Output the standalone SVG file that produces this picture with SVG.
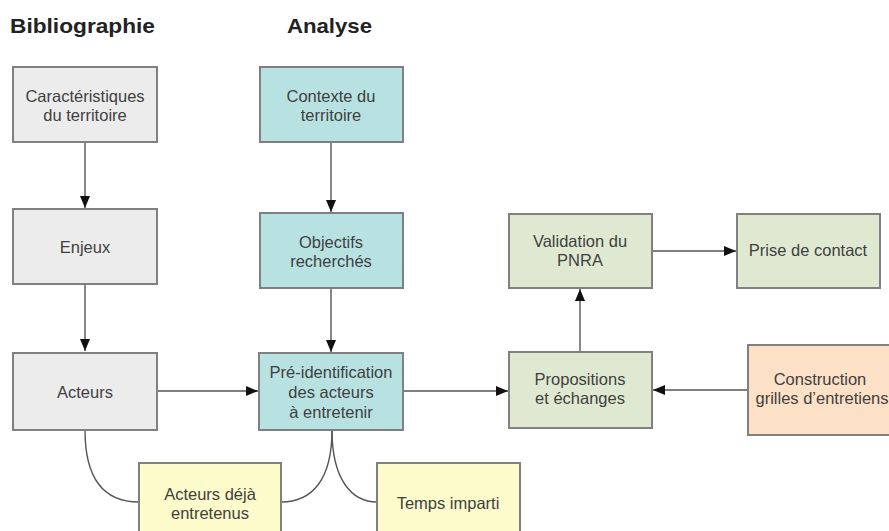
<svg xmlns="http://www.w3.org/2000/svg" width="889" height="531" viewBox="0 0 889 531">
<style>
.box{stroke:#808080;stroke-width:2}
.grey{fill:#ececec}.teal{fill:#b8e2e2}.green{fill:#dfe9d2}.yellow{fill:#fdfbcc}.orange{fill:#fde1c6}
.t{font-family:"Liberation Sans",Arial,sans-serif;font-size:16.5px;fill:#3f3f3f;text-anchor:middle}
.h{font-family:"Liberation Sans",Arial,sans-serif;font-size:21px;font-weight:bold;fill:#222}
.c{fill:none;stroke:#555;stroke-width:1.4}
</style>
<defs>
<marker id="a" viewBox="0 0 12 10" refX="12" refY="5" markerWidth="12" markerHeight="10" markerUnits="userSpaceOnUse" orient="auto">
<path d="M0,0L12,5L0,10z" fill="#111"/>
</marker>
</defs>
<rect width="889" height="531" fill="#fff"/>
<text class="h" x="10" y="33" textLength="145" lengthAdjust="spacingAndGlyphs">Bibliographie</text>
<text class="h" x="287" y="33" textLength="85" lengthAdjust="spacingAndGlyphs">Analyse</text>
<g id="connectors">
<path class="c" d="M85,142V208" marker-end="url(#a)"/>
<path class="c" d="M85,284V351" marker-end="url(#a)"/>
<path class="c" d="M331,142V212" marker-end="url(#a)"/>
<path class="c" d="M331,288V352" marker-end="url(#a)"/>
<path class="c" d="M157,391H258" marker-end="url(#a)"/>
<path class="c" d="M403,391H508" marker-end="url(#a)"/>
<path class="c" d="M748,390H653" marker-end="url(#a)"/>
<path class="c" d="M580,352V289" marker-end="url(#a)"/>
<path class="c" d="M652,251H736" marker-end="url(#a)"/>
<path class="c" d="M85,430C85,480 105,502 139,502"/>
<path class="c" d="M332,430C332,480 312,502 281,502"/>
<path class="c" d="M332,430C332,480 352,502 377,502"/>
</g>
<g id="n1"><rect class="box grey" x="13" y="67" width="144" height="75"/><text class="t" x="85" y="102">Caractéristiques</text><text class="t" x="85" y="121">du territoire</text></g>
<g id="n2"><rect class="box teal" x="260" y="67" width="143" height="75"/><text class="t" x="331" y="102">Contexte du</text><text class="t" x="331" y="121">territoire</text></g>
<g id="n3"><rect class="box grey" x="13" y="209" width="144" height="75"/><text class="t" x="85" y="253">Enjeux</text></g>
<g id="n4"><rect class="box teal" x="260" y="213" width="143" height="75"/><text class="t" x="331" y="248">Objectifs</text><text class="t" x="331" y="267">recherchés</text></g>
<g id="n5"><rect class="box grey" x="13" y="353" width="144" height="77"/><text class="t" x="85" y="398">Acteurs</text></g>
<g id="n6"><rect class="box teal" x="259" y="353" width="144" height="77"/><text class="t" x="331" y="378">Pré-identification</text><text class="t" x="331" y="398">des acteurs</text><text class="t" x="331" y="418">à entretenir</text></g>
<g id="n7"><rect class="box green" x="509" y="214" width="143" height="74"/><text class="t" x="580" y="247">Validation du</text><text class="t" x="580" y="266">PNRA</text></g>
<g id="n8"><rect class="box green" x="737" y="214" width="143" height="74"/><text class="t" x="808" y="256">Prise de contact</text></g>
<g id="n9"><rect class="box green" x="509" y="352" width="143" height="76"/><text class="t" x="580" y="385">Propositions</text><text class="t" x="580" y="404">et échanges</text></g>
<g id="n10"><rect class="box orange" x="748" y="345" width="146" height="90"/><text class="t" x="820" y="385">Construction</text><text class="t" x="822" y="404">grilles d’entretiens</text></g>
<g id="n11"><rect class="box yellow" x="139" y="463" width="142" height="75"/><text class="t" x="210" y="500">Acteurs déjà</text><text class="t" x="210" y="519">entretenus</text></g>
<g id="n12"><rect class="box yellow" x="377" y="463" width="143" height="75"/><text class="t" x="448" y="509">Temps imparti</text></g>
</svg>
